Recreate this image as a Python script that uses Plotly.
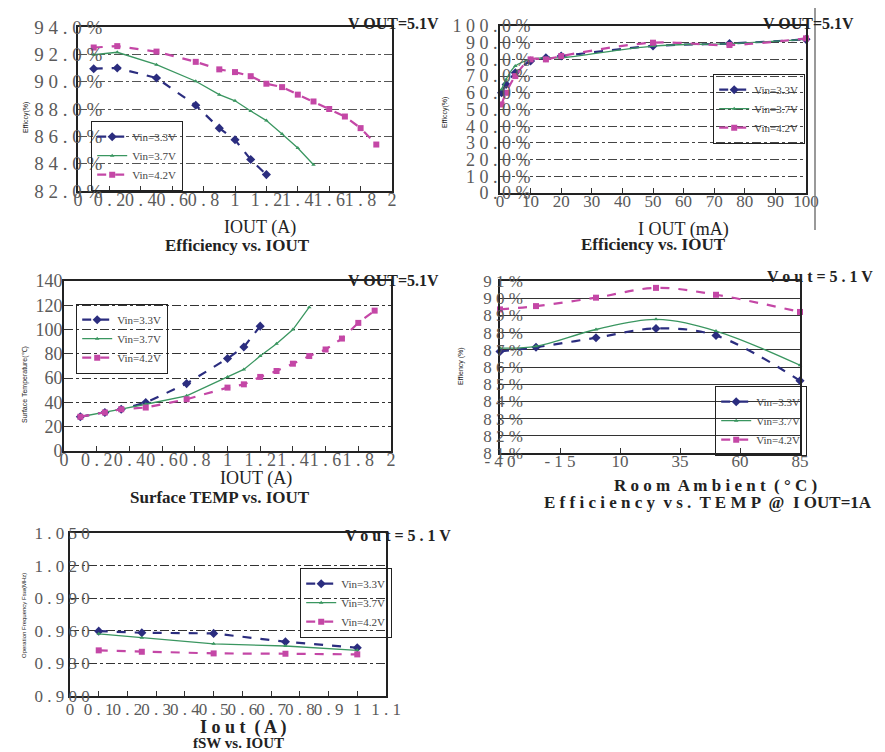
import plotly.graph_objects as go

W, H = 885, 752
SERIES = ["Vin=3.3V", "Vin=3.7V", "Vin=4.2V"]

# ---------------- Panel 1: Efficiency vs IOUT (A) ----------------
P1_X_33 = [0.1, 0.25, 0.5, 0.75, 0.9, 1.0, 1.1, 1.2]
P1_Y_33 = [90.95, 91.0, 90.27, 88.27, 86.6, 85.75, 84.3, 83.2]
P1_X_37 = [0.1, 0.25, 0.5, 0.75, 0.9, 1.0, 1.1, 1.2, 1.3, 1.4, 1.5]
P1_Y_37 = [91.97, 92.15, 91.24, 90.03, 89.05, 88.6, 87.85, 87.15, 86.17, 85.15, 83.92]
P1_X_42 = [0.1, 0.25, 0.5, 0.75, 0.9, 1.0, 1.1, 1.2, 1.3, 1.4, 1.5, 1.6, 1.7, 1.8, 1.9]
P1_Y_42 = [92.5, 92.6, 92.2, 91.45, 90.9, 90.7, 90.4, 89.85, 89.6, 89.05, 88.55, 88.0, 87.45, 86.6, 85.4]
P1_XTICKS = [0, 0.2, 0.4, 0.6, 0.8, 1.0, 1.2, 1.4, 1.6, 1.8, 2.0]
P1_XLABELS = ["0", "0 . 2", "0 . 4", "0 . 6", "0 . 8", "1", "1 . 2", "1 . 4", "1 . 6", "1 . 8", "2"]
P1_YTICKS = [82, 84, 86, 88, 90, 92, 94]
P1_YLABELS = ["8 2 . 0 %", "8 4 . 0 %", "8 6 . 0 %", "8 8 . 0 %", "9 0 . 0 %", "9 2 . 0 %", "9 4 . 0 %"]

# ---------------- Panel 2: Efficiency vs IOUT (mA) ----------------
P2_X = [0.5, 2, 5, 10, 15, 20, 50, 75, 100]
P2_Y_33 = [60, 65, 72, 79, 81, 82, 88, 89.5, 92]
P2_Y_37 = [62, 68, 76, 80, 81, 81, 88, 89.5, 92]
P2_Y_42 = [53, 60, 70, 80, 80, 82, 90, 88.6, 92.6]
P2_XTICKS = [0, 10, 20, 30, 40, 50, 60, 70, 80, 90, 100]
P2_XLABELS = ["0", "10", "20", "30", "40", "50", "60", "70", "80", "90", "100"]
P2_YTICKS = [0, 10, 20, 30, 40, 50, 60, 70, 80, 90, 100]
P2_YLABELS = ["0 . 0 %", "1 0 . 0 %", "2 0 . 0 %", "3 0 . 0 %", "4 0 . 0 %", "5 0 . 0 %",
              "6 0 . 0 %", "7 0 . 0 %", "8 0 . 0 %", "9 0 . 0 %", "1 0 0 . 0 %"]

# ---------------- Panel 3: Surface TEMP vs IOUT ----------------
P3_X_33 = [0.1, 0.25, 0.35, 0.5, 0.75, 1.0, 1.1, 1.2]
P3_Y_33 = [28.2, 31.7, 34.4, 39.9, 55.5, 76.2, 85.6, 102.8]
P3_X_37 = [0.1, 0.25, 0.35, 0.5, 0.75, 1.0, 1.1, 1.2, 1.3, 1.4, 1.5]
P3_Y_37 = [28.2, 31.7, 34.4, 38.5, 45.4, 61.0, 67.2, 78.2, 88.3, 100.0, 118.4]
P3_X_42 = [0.1, 0.25, 0.35, 0.5, 0.75, 1.0, 1.1, 1.2, 1.3, 1.4, 1.5, 1.6, 1.7, 1.8, 1.9]
P3_Y_42 = [28.2, 31.7, 34.4, 35.8, 42.6, 52.2, 54.9, 61.0, 65.9, 71.9, 78.2, 83.6, 92.6, 105.5, 115.6]
P3_YTICKS = [0, 20, 40, 60, 80, 100, 120, 140]
P3_YLABELS = ["0", "20", "40", "60", "80", "100", "120", "140"]

# ---------------- Panel 4: Efficiency vs TEMP @ IOUT=1A ----------------
P4_X = [-40, -25, 0, 25, 50, 85]
P4_Y_33 = [86.9, 87.15, 87.7, 88.24, 87.83, 85.2]
P4_Y_37 = [87.1, 87.2, 88.18, 88.77, 88.09, 86.1]
P4_Y_42 = [89.35, 89.54, 90.03, 90.6, 90.2, 89.2]
P4_XTICKS = [-40, -15, 10, 35, 60, 85]
P4_XLABELS = ["- 4 0", "- 1 5", "10", "35", "60", "85"]
P4_YTICKS = [81, 82, 83, 84, 85, 86, 87, 88, 89, 90, 91]
P4_YLABELS = ["8 1 %", "8 2 %", "8 3 %", "8 4 %", "8 5 %", "8 6 %", "8 7 %", "8 8 %", "8 9 %", "9 0 %", "9 1 %"]

# ---------------- Panel 5: fSW vs IOUT ----------------
P5_X = [0.1, 0.25, 0.5, 0.75, 1.0]
P5_Y_33 = [0.9597, 0.9582, 0.9576, 0.9499, 0.9444]
P5_Y_37 = [0.9572, 0.9536, 0.9480, 0.9460, 0.9420]
P5_Y_42 = [0.9420, 0.9407, 0.9392, 0.9389, 0.9383]
P5_XTICKS = [0, 0.1, 0.2, 0.3, 0.4, 0.5, 0.6, 0.7, 0.8, 0.9, 1.0, 1.1]
P5_XLABELS = ["0", "0 . 1", "0 . 2", "0 . 3", "0 . 4", "0 . 5", "0 . 6", "0 . 7", "0 . 8", "0 . 9", "1", "1 . 1"]
P5_YTICKS = [0.90, 0.93, 0.96, 0.99, 1.02, 1.05]
P5_YLABELS = ["0 . 9 0 0", "0 . 9 3 0", "0 . 9 6 0", "0 . 9 9 0", "1 . 0 2 0", "1 . 0 5 0"]


def fx(x):
    return x / W


def fy(y):
    return 1 - y / H


STY = {
    "Vin=3.3V": dict(color="#2b2d7f", dash="dash", width=2.2, symbol="diamond", msize=7),
    "Vin=3.7V": dict(color="#3a9660", dash="solid", width=1.3, symbol="triangle-up", msize=4),
    "Vin=4.2V": dict(color="#c447a6", dash="dash", width=2.2, symbol="square", msize=6),
}

fig = go.Figure()


def add(panel, name, xs, ys, shape="linear"):
    s = STY[name]
    suf = "" if panel == 1 else str(panel)
    fig.add_trace(go.Scatter(
        x=xs, y=ys, name=name, mode="lines+markers",
        xaxis="x" + suf, yaxis="y" + suf, legend="legend" + suf,
        line=dict(color=s["color"], dash=s["dash"], width=s["width"], shape=shape),
        marker=dict(symbol=s["symbol"], size=s["msize"], color=s["color"]),
        cliponaxis=False,
    ))


add(1, SERIES[0], P1_X_33, P1_Y_33)
add(1, SERIES[1], P1_X_37, P1_Y_37)
add(1, SERIES[2], P1_X_42, P1_Y_42)
add(2, SERIES[0], P2_X, P2_Y_33, "spline")
add(2, SERIES[1], P2_X, P2_Y_37, "spline")
add(2, SERIES[2], P2_X, P2_Y_42, "spline")
add(3, SERIES[0], P3_X_33, P3_Y_33)
add(3, SERIES[1], P3_X_37, P3_Y_37)
add(3, SERIES[2], P3_X_42, P3_Y_42)
add(4, SERIES[0], P4_X, P4_Y_33, "spline")
add(4, SERIES[1], P4_X, P4_Y_37, "spline")
add(4, SERIES[2], P4_X, P4_Y_42, "spline")
add(5, SERIES[0], P5_X, P5_Y_33)
add(5, SERIES[1], P5_X, P5_Y_37)
add(5, SERIES[2], P5_X, P5_Y_42)

SERIF = "Liberation Serif"
TICKC = "#5a5a5a"


def xax(l, r, anchor, rng, tv, tt, size, standoff):
    return dict(domain=[fx(l), fx(r)], anchor=anchor, range=rng, tickvals=tv, ticktext=tt,
                tickangle=0, ticks="inside", ticklen=5, tickcolor="#333", tickwidth=1.2,
                showline=True, mirror=True, linecolor="#222", linewidth=1.6,
                showgrid=False, zeroline=False, automargin=False,
                tickfont=dict(family=SERIF, size=size, color=TICKC),
                ticklabelstandoff=standoff)


def yax(t, b, anchor, rng, tv, tt, size, standoff, gcolor, gdash, gwidth=1.4):
    return dict(domain=[fy(b), fy(t)], anchor=anchor, range=rng, tickvals=tv, ticktext=tt,
                ticks="", showline=True, mirror=True, linecolor="#222", linewidth=1.6,
                showgrid=True, gridcolor=gcolor, griddash=gdash, gridwidth=gwidth, zeroline=False,
                automargin=False,
                tickfont=dict(family=SERIF, size=size, color=TICKC),
                ticklabelstandoff=standoff)


def leg(l, t, size=11):
    return dict(x=fx(l), y=fy(t), xanchor="left", yanchor="top", xref="paper", yref="paper",
                bordercolor="#222", borderwidth=1.2, bgcolor="rgba(255,255,255,0)",
                font=dict(family=SERIF, size=size, color="#444"), itemwidth=30,
                tracegroupgap=0, traceorder="normal")


fig.update_layout(
    width=W, height=H, margin=dict(l=0, r=0, t=0, b=0, autoexpand=False),
    paper_bgcolor="white", plot_bgcolor="white",
    xaxis=xax(70, 384, "y", [0, 2], P1_XTICKS, P1_XLABELS, 18, -8),
    yaxis=yax(19, 183, "x", [82, 94], P1_YTICKS, P1_YLABELS, 19, -30, "#555", "dashdot"),
    xaxis2=xax(492, 798, "y2", [0, 100], P2_XTICKS, P2_XLABELS, 17, -8),
    yaxis2=yax(18, 185, "x2", [0, 100], P2_YTICKS, P2_YLABELS, 18, -36, "#444", "dashdot"),
    xaxis3=xax(56, 383, "y3", [0, 2], P1_XTICKS, P1_XLABELS, 18, -8),
    yaxis3=yax(273, 443, "x3", [0, 140], P3_YTICKS, P3_YLABELS, 18, -4, "#333", "dashdot"),
    xaxis4=xax(492, 792, "y4", [-40, 85], P4_XTICKS, P4_XLABELS, 17, -8),
    yaxis4=yax(273, 445, "x4", [81, 91], P4_YTICKS, P4_YLABELS, 17, -28, "#333", "solid", 1.2),
    xaxis5=xax(62, 378, "y5", [0, 1.1], P5_XTICKS, P5_XLABELS, 17, -3),
    yaxis5=yax(525, 688, "x5", [0.9, 1.05], P5_YTICKS, P5_YLABELS, 17, -25, "#333", "dashdot", 1.2),
    legend=leg(83, 113),
    legend2=leg(705, 66),
    legend3=leg(68, 296),
    legend4=leg(707, 378),
    legend5=leg(292, 560),
)

ANN = [
    # (text, x, y, size, bold, angle, family)
    ("V OUT=5.1V", 385, 15, 16, True, 0, SERIF),
    ("IOUT (A)", 252, 219, 18, False, 0, SERIF),
    ("Efficiency vs. IOUT", 229, 238, 17, True, 0, SERIF),
    ("Efficcy(%)", 18, 110, 7, False, -90, "Liberation Sans"),
    ("V OUT=5.1V", 800, 15, 16, True, 0, SERIF),
    ("I OUT (mA)", 675, 221, 18, False, 0, SERIF),
    ("Efficiency vs. IOUT", 645, 236, 17, True, 0, SERIF),
    ("Efficcy(%)", 437, 105, 7, False, -90, "Liberation Sans"),
    ("V OUT=5.1V", 385, 272, 16, True, 0, SERIF),
    ("IOUT (A)", 248, 470, 18, False, 0, SERIF),
    ("Surface TEMP vs. IOUT", 212, 489, 17, True, 0, SERIF),
    ("Surface Temperature(℃)", 17, 377, 7, False, -90, "Liberation Sans"),
    ("V o u t = 5 . 1 V", 812, 268, 16, True, 0, SERIF),
    ("R o o m  A m b i e n t  ( ° C )", 707, 478, 17, True, 0, SERIF),
    ("E f f i c i e n c y  v s .  T E M P  @  I OUT=1A", 700, 494, 17, True, 0, SERIF),
    ("Effiency (%)", 453, 358, 7, False, -90, "Liberation Sans"),
    ("V o u t = 5 . 1 V", 390, 527, 16, True, 0, SERIF),
    ("I o u t  ( A )", 235, 719, 18, True, 0, SERIF),
    ("fSW vs. IOUT", 230, 735, 15, True, 0, SERIF),
    ("Operation Frequency Fsw(MHz)", 16, 608, 6, False, -90, "Liberation Sans"),
]

for text, x, y, size, bold, ang, fam in ANN:
    fig.add_annotation(text=("<b>%s</b>" % text) if bold else text, x=fx(x), y=fy(y),
                       xref="paper", yref="paper", showarrow=False, textangle=ang,
                       xanchor="center", yanchor="middle",
                       font=dict(family=fam, size=size, color="#222"))

# stray vertical rule at right of the top-right panel
fig.add_shape(type="line", xref="paper", yref="paper", x0=fx(807), x1=fx(807), y0=fy(0), y1=fy(222),
              line=dict(color="#777", width=1.5))

fig.write_html("out.html")
